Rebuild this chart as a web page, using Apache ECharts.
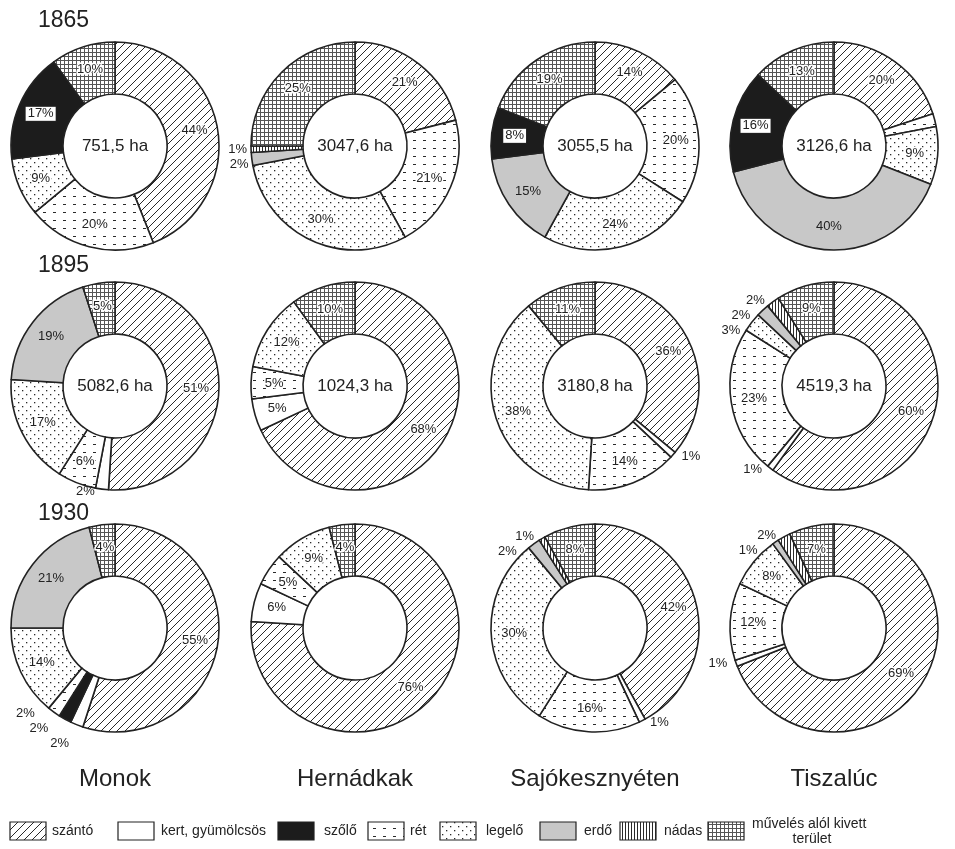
<!DOCTYPE html>
<html>
<head>
<meta charset="utf-8">
<script src="https://cdn.jsdelivr.net/npm/echarts@6/dist/echarts.min.js"></script>
<style>
html,body{margin:0;padding:0;background:#fff;}
#main{width:955px;height:849px;}
</style>
</head>
<body>
<div id="main"></div>
<script>
// ---------- DATA ----------
const categories = ['szántó', 'kert, gyümölcsös', 'szőlő', 'rét', 'legelő', 'erdő', 'nádas', 'művelés alól kivett terület'];
const places = ['Monok', 'Hernádkak', 'Sajókesznyéten', 'Tiszalúc'];
const years = ['1865', '1895', '1930'];
const totals1865 = ['751,5 ha', '3047,6 ha', '3055,5 ha', '3126,6 ha'];
const totals1895 = ['5082,6 ha', '1024,3 ha', '3180,8 ha', '4519,3 ha'];
const totals1930 = ['', '', '', ''];

// [category, percent] in clockwise order from 12 o'clock
const monok1865 = [['szántó', 44], ['rét', 20], ['legelő', 9], ['szőlő', 17], ['művelés alól kivett terület', 10]];
const hernadkak1865 = [['szántó', 21], ['rét', 21], ['legelő', 30], ['erdő', 2], ['nádas', 1], ['művelés alól kivett terület', 25]];
const sajo1865 = [['szántó', 14], ['rét', 20], ['legelő', 24], ['erdő', 15], ['szőlő', 8], ['művelés alól kivett terület', 19]];
const tiszaluc1865 = [['szántó', 20], ['rét', 2], ['legelő', 9], ['erdő', 40], ['szőlő', 16], ['művelés alól kivett terület', 13]];

const monok1895 = [['szántó', 51], ['kert, gyümölcsös', 2], ['rét', 6], ['legelő', 17], ['erdő', 19], ['művelés alól kivett terület', 5]];
const hernadkak1895 = [['szántó', 68], ['kert, gyümölcsös', 5], ['rét', 5], ['legelő', 12], ['művelés alól kivett terület', 10]];
const sajo1895 = [['szántó', 36], ['kert, gyümölcsös', 1], ['rét', 14], ['legelő', 38], ['művelés alól kivett terület', 11]];
const tiszaluc1895 = [['szántó', 60], ['kert, gyümölcsös', 1], ['rét', 23], ['legelő', 3], ['erdő', 2], ['nádas', 2], ['művelés alól kivett terület', 9]];

const monok1930 = [['szántó', 55], ['kert, gyümölcsös', 2], ['szőlő', 2], ['rét', 2], ['legelő', 14], ['erdő', 21], ['művelés alól kivett terület', 4]];
const hernadkak1930 = [['szántó', 76], ['kert, gyümölcsös', 6], ['rét', 5], ['legelő', 9], ['művelés alól kivett terület', 4]];
const sajo1930 = [['szántó', 42], ['kert, gyümölcsös', 1], ['rét', 16], ['legelő', 30], ['erdő', 2], ['nádas', 1], ['művelés alól kivett terület', 8]];
const tiszaluc1930 = [['szántó', 69], ['kert, gyümölcsös', 1], ['rét', 12], ['legelő', 8], ['erdő', 1], ['nádas', 2], ['művelés alól kivett terület', 7]];

const grid = [
  [monok1865, hernadkak1865, sajo1865, tiszaluc1865],
  [monok1895, hernadkak1895, sajo1895, tiszaluc1895],
  [monok1930, hernadkak1930, sajo1930, tiszaluc1930]
];
const totals = [totals1865, totals1895, totals1930];

// ---------- LAYOUT ----------
const colX = [115, 355, 595, 834];
const rowY = [146, 386, 628];
const R0 = 52, R1 = 104;
const FONT = '"Liberation Sans", Arial, sans-serif';
const INK = '#222';

// ---------- PATTERNS ----------
function tile(w, h, draw) {
  const c = document.createElement('canvas');
  c.width = w; c.height = h;
  const g = c.getContext('2d');
  g.fillStyle = '#fff'; g.fillRect(0, 0, w, h);
  g.strokeStyle = '#2a2a2a'; g.fillStyle = '#2a2a2a';
  draw(g, w, h);
  return { image: c, repeat: 'repeat' };
}
const fills = {
  'szántó': tile(8, 8, (g, w, h) => {
    g.lineWidth = 1;
    g.beginPath();
    g.moveTo(-1, h + 1); g.lineTo(w + 1, -1);
    g.moveTo(-1, 1); g.lineTo(1, -1);
    g.moveTo(w - 1, h + 1); g.lineTo(w + 1, h - 1);
    g.stroke();
  }),
  'kert, gyümölcsös': '#ffffff',
  'szőlő': '#1c1c1c',
  'rét': tile(10, 8, (g) => { g.fillRect(3, 4, 3, 1); }),
  'legelő': tile(8, 8, (g) => { g.fillRect(2, 2, 1.3, 1.3); g.fillRect(6, 6, 1.3, 1.3); }),
  'erdő': '#c8c8c8',
  'nádas': tile(3, 3, (g) => { g.fillRect(1, 0, 1, 3); }),
  'művelés alól kivett terület': tile(4, 4, (g) => {
    g.fillStyle = '#555'; g.fillRect(0, 0, 4, 1); g.fillRect(0, 0, 1, 4);
  })
};

// ---------- SERIES ----------
const series = [];
grid.forEach((row, r) => {
  row.forEach((pairs, c) => {
    series.push({
      type: 'pie',
      center: [colX[c], rowY[r]],
      radius: [R0, R1],
      startAngle: 90,
      clockwise: true,
      silent: true,
      avoidLabelOverlap: true,
      itemStyle: { borderColor: INK, borderWidth: 1.6 },
      label: {
        formatter: '{c}%', fontSize: 13, color: INK, fontFamily: FONT,
        textBorderColor: '#fff', textBorderWidth: 3
      },
      labelLine: { show: false, length: 2, length2: 2 },
      data: pairs.map(([cat, v]) => {
        const item = { name: cat, value: v, itemStyle: { color: fills[cat] } };
        if (v <= 3) {
          item.label = { position: 'outside', textBorderWidth: 0 };
        } else if (cat === 'szőlő') {
          item.label = { position: 'inside', backgroundColor: '#fff', borderColor: INK, borderWidth: 1, padding: [1, 2, 0, 2], textBorderWidth: 0 };
        } else if (cat === 'erdő') {
          item.label = { position: 'inside', textBorderWidth: 0 };
        } else {
          item.label = { position: 'inside' };
        }
        return item;
      })
    });
  });
});

// ---------- TEXT & LEGEND ----------
const graphics = [];
years.forEach((y, r) => {
  graphics.push({ type: 'text', x: 38, y: [32, 277, 525][r], style: { text: y, font: '23px ' + FONT, fill: INK, verticalAlign: 'bottom' } });
});
totals.forEach((row, r) => row.forEach((t, c) => {
  if (t) graphics.push({ type: 'text', x: colX[c], y: rowY[r], style: { text: t, font: '17px ' + FONT, fill: INK, align: 'center', verticalAlign: 'middle' } });
}));
places.forEach((p, c) => {
  graphics.push({ type: 'text', x: colX[c], y: 779, style: { text: p, font: '24px ' + FONT, fill: INK, align: 'center', verticalAlign: 'middle' } });
});
const legendBoxX = [10, 118, 278, 368, 440, 540, 620, 708];
const legendTextX = [52, 161, 324, 410, 486, 584, 664, 752];
categories.forEach((cat, i) => {
  graphics.push({ type: 'rect', shape: { x: legendBoxX[i], y: 822, width: 36, height: 18 }, style: { fill: fills[cat], stroke: INK, lineWidth: 1.2 } });
  if (i === 7) {
    graphics.push({ type: 'text', x: legendTextX[i], y: 831, style: { text: 'művelés alól kivett', font: '14px ' + FONT, fill: INK, verticalAlign: 'bottom' } });
    graphics.push({ type: 'text', x: legendTextX[i] + 60, y: 832, style: { text: 'terület', font: '14px ' + FONT, fill: INK, verticalAlign: 'top', align: 'center' } });
  } else {
    graphics.push({ type: 'text', x: legendTextX[i], y: 831, style: { text: cat, font: '14px ' + FONT, fill: INK, verticalAlign: 'middle' } });
  }
});

const chart = echarts.init(document.getElementById('main'), null, { renderer: 'canvas' });
chart.setOption({
  animation: false,
  backgroundColor: '#fff',
  series: series,
  graphic: graphics
});
</script>
</body>
</html>
